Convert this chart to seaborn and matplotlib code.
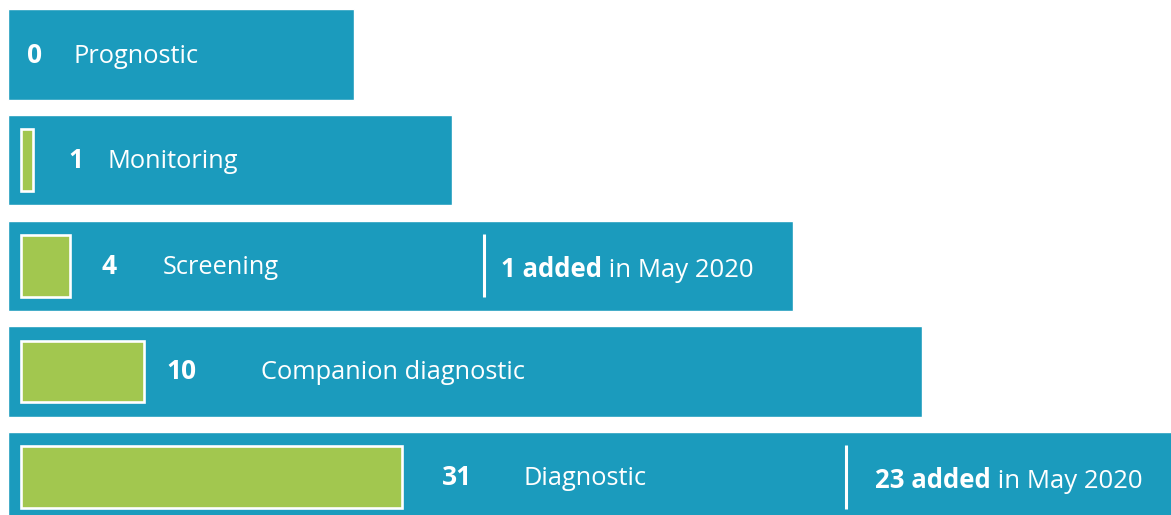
import matplotlib.pyplot as plt
import seaborn as sns

# data
categories = ["Prognostic", "Monitoring", "Screening", "Companion diagnostic", "Diagnostic"]
counts = [0, 1, 4, 10, 31]
added = [None, None, 1, None, 23]
added_month = "May 2020"

blue = "#1b9bbd"
green = "#a2c74f"

# layout, in pixels of the 1171x515 image
panel_right = [354, 452, 793, 922, 1185]
number_x = [27, 68, 101, 166, 442]
label_x = [73, 107, 163, 261, 523]
divider_x = [None, None, 484, None, 846]
added_x = [None, None, 501, None, 875]
px_per_unit = 12.3
green_left = 20.5
row_step = 105.6   # px between row centres
first_row = 54.6   # px from top to first row centre


def px(x):
    # pixel column -> value units on the x axis
    return (x - green_left) / px_per_unit


sns.set_theme(style="white")
plt.rcParams["font.family"] = ["Open Sans", "DejaVu Sans"]

fig = plt.figure(figsize=(11.71, 5.15), dpi=100)
ax = fig.add_axes([0, 0, 1, 1])

# background panels
rows = list(range(len(categories)))
ax.barh(rows, [px(r) - px(8) for r in panel_right], left=px(8),
        height=90.5 / row_step, color=blue, zorder=0)

# green count bars
sns.barplot(x=counts, y=categories, orient="h", ax=ax, color=green,
            edgecolor="white", linewidth=1.9, width=0.585, saturation=1, zorder=2)
for p in ax.patches[len(categories):]:
    if p.get_width() == 0:
        p.set_visible(False)

base = 8.0 / row_step  # baseline sits a little below the row centre
for i, cat in enumerate(categories):
    ax.text(px(number_x[i]), i + base, str(counts[i]), color="white",
            fontsize=19, fontweight="bold", va="baseline", ha="left", zorder=3)
    ax.text(px(label_x[i]), i + base, cat, color="white",
            fontsize=18.3, va="baseline", ha="left", zorder=3)
    if added[i] is not None:
        ax.vlines(px(divider_x[i]), i - 0.3, i + 0.3, color="white",
                  linewidth=2.2, zorder=3)
        t1 = ax.text(px(added_x[i]), i + base + 0.03, f"{added[i]} added",
                     color="white", fontsize=18.5, fontweight="bold",
                     va="baseline", ha="left", zorder=3)
        ax.annotate(f" in {added_month}", xy=(1, 0), xycoords=t1,
                    color="white", fontsize=18.5, va="bottom", ha="left",
                    zorder=3)

ax.set_xlim(px(0), px(1171))
ax.set_ylim((515 - first_row) / row_step, -first_row / row_step)
ax.axis("off")

fig.savefig("out.png", dpi=100, facecolor="white")
